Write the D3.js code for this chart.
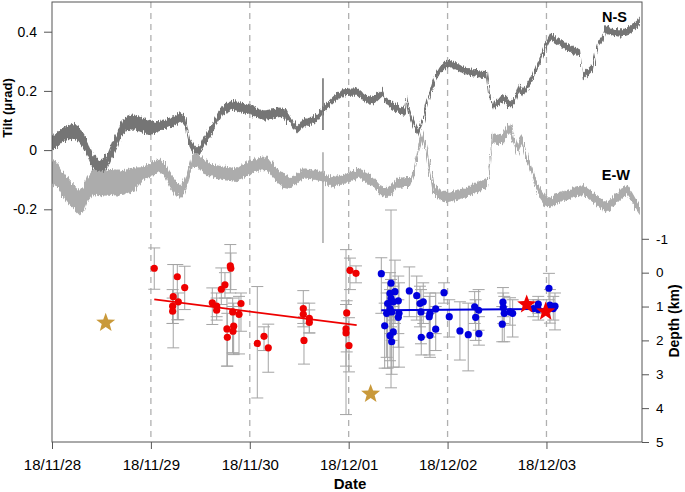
<!DOCTYPE html>
<html><head><meta charset="utf-8">
<script src="https://cdn.jsdelivr.net/npm/d3@7"></script>
<style>
body{margin:0;background:#fff}
svg{display:block}
text{font-family:"Liberation Sans",Arial,Helvetica,sans-serif;fill:#000}
</style>
</head><body>
<svg id="chart" width="685" height="492"></svg>
<script>
// ---------- DATA (time in days since 2018-11-28 00:00 UTC) ----------
const dayLabels = ["18/11/28","18/11/29","18/11/30","18/12/01","18/12/02","18/12/03"];
const tiltTicks = [-0.2, 0, 0.2, 0.4];
const depthTicks = [-1, 0, 1, 2, 3, 4, 5];

// N-S tilt (µrad), [day, value]
const nsTilt = [[0,0.024],[0.051,0.034],[0.101,0.051],[0.152,0.057],[0.212,0.064],[0.263,0.054],[0.313,0.034],[0.364,0],[0.415,-0.041],[0.485,-0.061],[0.526,-0.051],[0.566,-0.034],[0.607,0],[0.657,0.034],[0.708,0.078],[0.758,0.088],[0.819,0.095],[0.885,0.088],[0.991,0.074],[1.072,0.078],[1.163,0.091],[1.244,0.101],[1.294,0.112],[1.345,0.101],[1.395,0.024],[1.426,0.007],[1.466,-0.007],[1.496,0],[1.527,0.024],[1.577,0.051],[1.628,0.078],[1.678,0.108],[1.729,0.135],[1.780,0.145],[1.830,0.152],[1.901,0.145],[2.002,0.135],[2.133,0.118],[2.224,0.122],[2.305,0.128],[2.336,0.125],[2.376,0.115],[2.406,0.101],[2.447,0.081],[2.477,0.068],[2.508,0.078],[2.538,0.091],[2.609,0.098],[2.680,0.108],[2.710,0.122],[2.740,0.135],[2.781,0.149],[2.841,0.169],[2.892,0.183],[2.942,0.193],[3.013,0.196],[3.084,0.196],[3.145,0.179],[3.215,0.169],[3.286,0.176],[3.347,0.196],[3.367,0.169],[3.418,0.156],[3.519,0.135],[3.569,0.128],[3.590,0.172],[3.620,0.122],[3.650,0.095],[3.701,0.057],[3.751,0.101],[3.802,0.169],[3.842,0.213],[3.883,0.247],[3.923,0.270],[3.974,0.287],[4.024,0.294],[4.085,0.284],[4.156,0.270],[4.226,0.264],[4.327,0.257],[4.398,0.254],[4.429,0.179],[4.459,0.145],[4.510,0.159],[4.560,0.179],[4.601,0.166],[4.631,0.152],[4.682,0.169],[4.712,0.196],[4.732,0.213],[4.762,0.193],[4.813,0.220],[4.863,0.247],[4.914,0.287],[4.965,0.328],[5.005,0.362],[5.035,0.382],[5.086,0.375],[5.137,0.362],[5.207,0.348],[5.268,0.338],[5.319,0.331],[5.339,0.328],[5.369,0.247],[5.420,0.264],[5.470,0.281],[5.501,0.331],[5.531,0.362],[5.571,0.382],[5.592,0.406],[5.642,0.402],[5.713,0.396],[5.774,0.396],[5.824,0.402],[5.874,0.413],[5.915,0.426],[5.945,0.440]];
// E-W tilt (µrad), [day, value]
const ewTilt = [[0,-0.074],[0.051,-0.085],[0.101,-0.112],[0.152,-0.135],[0.202,-0.152],[0.253,-0.169],[0.283,-0.179],[0.324,-0.162],[0.354,-0.135],[0.415,-0.108],[0.485,-0.115],[0.566,-0.108],[0.657,-0.112],[0.738,-0.108],[0.819,-0.101],[0.910,-0.081],[0.991,-0.068],[1.041,-0.057],[1.092,-0.051],[1.143,-0.068],[1.193,-0.101],[1.244,-0.125],[1.294,-0.142],[1.335,-0.128],[1.365,-0.101],[1.395,-0.068],[1.426,-0.034],[1.466,-0.034],[1.496,-0.044],[1.547,-0.057],[1.598,-0.068],[1.668,-0.074],[1.729,-0.078],[1.800,-0.081],[1.871,-0.085],[1.931,-0.071],[2.002,-0.057],[2.083,-0.047],[2.174,-0.044],[2.235,-0.068],[2.285,-0.088],[2.336,-0.101],[2.406,-0.112],[2.477,-0.095],[2.538,-0.078],[2.609,-0.081],[2.680,-0.085],[2.730,-0.088],[2.781,-0.101],[2.841,-0.108],[2.912,-0.101],[3.013,-0.091],[3.114,-0.078],[3.185,-0.095],[3.246,-0.108],[3.316,-0.135],[3.387,-0.145],[3.448,-0.128],[3.488,-0.112],[3.569,-0.108],[3.620,-0.108],[3.660,-0.074],[3.691,-0.024],[3.721,0.024],[3.741,0.044],[3.771,0.017],[3.792,-0.010],[3.822,-0.068],[3.852,-0.125],[3.923,-0.152],[3.994,-0.159],[4.095,-0.152],[4.196,-0.142],[4.297,-0.125],[4.398,-0.112],[4.429,-0.034],[4.449,0.044],[4.499,0.034],[4.560,0.041],[4.611,0.068],[4.631,0.074],[4.671,0.034],[4.702,0],[4.732,0.024],[4.752,0.034],[4.793,-0.017],[4.833,-0.057],[4.884,-0.108],[4.934,-0.145],[4.985,-0.169],[5.035,-0.179],[5.116,-0.162],[5.207,-0.152],[5.288,-0.142],[5.369,-0.135],[5.440,-0.152],[5.541,-0.179],[5.612,-0.193],[5.693,-0.169],[5.764,-0.145],[5.814,-0.135],[5.865,-0.159],[5.905,-0.183],[5.945,-0.203]];
// noise half-width of each trace, [from day, µrad]
const nsNoise = [[0,0.025],[1.0,0.016],[2.4,0.012]];
const ewNoise = [[0,0.042],[0.9,0.023],[2.4,0.017]];
// spikes [day, low, high]
const nsSpikes = [[2.740,0.068,0.243]];
const ewSpikes = [[2.740,-0.314,-0.007]];

// Hypocentre depths (km): day, depth, error low, error high
const redT  = [1.034,1.267,1.342,1.226,1.277,1.220,1.220,1.621,1.665,1.665,1.712,1.749,1.803,1.808,1.911,1.827,1.891,1.769,1.837,1.830,1.773,2.076,2.144,2.187,2.541,2.541,2.602,2.602,2.548,2.980,2.973,2.973,3.003,3.013,3.074];
const redD  = [-0.13,0.12,0.44,0.71,0.86,0.99,1.14,0.89,0.99,1.11,0.49,0.36,-0.20,-0.13,0.91,1.16,1.23,1.66,1.58,1.73,1.91,2.09,1.88,2.22,1.06,1.23,1.35,1.47,2.00,1.19,1.66,1.78,2.15,-0.07,0.02];
const redLo = [-0.73,-0.24,-0.19,-0.24,0.60,0.50,0.75,0.45,0.60,0.75,-0.14,0.00,-0.83,-0.58,0.60,0.75,0.70,0.75,0.90,1.00,1.20,0.41,1.60,1.52,0.53,0.90,0.90,1.10,1.30,0.83,0.94,-0.68,1.33,-0.43,-0.20];
const redHi = [0.49,1.39,1.09,2.22,1.39,1.50,1.50,1.53,1.30,1.40,0.94,0.75,0.60,0.50,1.73,2.37,2.40,2.76,2.42,2.37,2.76,3.70,2.30,2.94,1.60,1.50,1.78,1.78,2.70,2.34,2.76,4.19,2.93,0.50,0.30];

const blueT  = [3.330,3.428,3.468,3.418,3.428,3.394,3.502,3.451,3.418,3.384,3.435,3.509,3.502,3.364,3.451,3.418,3.435,3.613,3.688,3.754,3.721,3.731,3.822,3.815,3.880,3.734,3.822,3.880,3.964,4.017,4.125,4.209,4.274,4.314,4.284,4.317,4.560,4.563,4.573,4.553,4.631,4.658,4.867,4.917,4.917,5.025,5.035,5.086,5.069];
const blueD  = [0.03,0.31,0.56,0.61,0.76,0.91,0.83,0.86,1.06,1.20,1.16,1.20,1.32,1.57,1.75,1.86,2.04,0.54,0.68,0.86,0.91,1.16,1.20,1.30,1.07,1.91,1.85,1.67,0.59,1.30,1.72,1.83,1.01,1.11,1.32,1.80,0.87,1.03,1.20,1.52,1.16,1.20,1.06,0.93,1.09,0.46,0.96,0.99,1.06];
const blueLo = [-0.44,-1.85,-0.37,0.00,0.20,0.30,0.10,0.40,0.50,0.60,0.60,0.30,0.80,0.90,1.00,1.20,1.30,-0.17,0.10,0.30,0.40,0.50,0.60,0.70,0.60,1.30,1.20,1.00,0.30,0.80,0.86,0.90,0.56,0.50,0.80,1.30,0.44,0.60,0.70,1.00,0.74,0.80,0.80,0.70,0.80,0.02,0.50,0.60,0.70];
const blueHi = [1.20,3.40,1.50,1.30,1.60,2.82,1.80,1.40,1.80,2.50,2.00,2.79,2.20,2.82,2.79,2.60,3.00,1.30,1.40,1.50,1.60,2.10,1.90,2.43,1.80,2.43,2.50,2.30,0.90,1.90,2.58,2.90,1.50,1.70,2.00,2.14,1.30,1.50,2.04,2.04,1.55,1.90,1.30,1.20,1.40,0.80,1.49,1.69,1.40];

const redFit  = [[1.034,0.79],[3.081,1.55]];
const blueFit = [[3.330,1.11],[5.086,1.07]];
const goldStars = [[0.543,1.48],[3.222,3.58]];
const redStars  = [[4.800,0.94],[4.992,1.15]];

// ---------- CHART ----------
const svg = d3.select("#chart");
const base = Date.UTC(2018,10,28);
const toDate = t => new Date(base + t*864e5);
const L = 52, R = 642, T = 2, B = 442;

const x = d3.scaleUtc().domain([toDate(0), toDate(5.966)]).range([L, R]);
const yT = d3.scaleLinear().domain([-0.2, 0.4]).range([209.3, 31.7]);
const yD = d3.scaleLinear().domain([-1, 5]).range([238.8, B]);
const dayDates = dayLabels.map((s,i) => toDate(i));

// texture filter giving the recorded traces their ragged, noisy edge (rendering only)
const defs = svg.append("defs");
const f = defs.append("filter").attr("id", "rough")
  .attr("x", "-5%").attr("y", "-20%").attr("width", "110%").attr("height", "140%");
f.append("feTurbulence").attr("type", "fractalNoise").attr("baseFrequency", "0.9 0.06")
  .attr("numOctaves", 2).attr("seed", 4).attr("result", "t");
f.append("feDisplacementMap").attr("in", "SourceGraphic").attr("in2", "t")
  .attr("scale", 7).attr("xChannelSelector", "R").attr("yChannelSelector", "G");

// dashed day lines
svg.append("g").selectAll("line").data(dayDates.slice(1)).join("line")
  .attr("x1", d => x(d)).attr("x2", d => x(d)).attr("y1", T).attr("y2", B)
  .attr("stroke", "#b0b0b0").attr("stroke-width", 1.3).attr("stroke-dasharray", "6,5");

// tilt traces
function noiseAt(tbl, t){ let s = tbl[0][1]; for (const [t0,v] of tbl) if (t >= t0) s = v; return s; }
function drawTrace(data, noise, spikes, color){
  const g = svg.append("g");
  const area = d3.area().x(d => x(toDate(d[0])))
    .y0(d => yT(d[1] - noiseAt(noise, d[0]))).y1(d => yT(d[1] + noiseAt(noise, d[0])));
  g.append("path").attr("d", area(data)).attr("fill", color).attr("filter", "url(#rough)");
  g.selectAll("line").data(spikes).join("line")
    .attr("x1", d => x(toDate(d[0]))).attr("x2", d => x(toDate(d[0])))
    .attr("y1", d => yT(d[1])).attr("y2", d => yT(d[2]))
    .attr("stroke", color).attr("stroke-width", 1.6);
}
drawTrace(nsTilt, nsNoise, nsSpikes, "#747474");
drawTrace(ewTilt, ewNoise, ewSpikes, "#acacac");

// error bars
function errBars(T_, D_, Lo, Hi){
  const g = svg.append("g").attr("stroke", "#a4a4a4").attr("stroke-width", 1).attr("fill", "none");
  T_.forEach((t,i) => {
    const cx = x(toDate(t));
    g.append("line").attr("x1", cx).attr("x2", cx).attr("y1", yD(Lo[i])).attr("y2", yD(Hi[i]));
    g.append("line").attr("x1", cx-6).attr("x2", cx+6).attr("y1", yD(Lo[i])).attr("y2", yD(Lo[i]));
    g.append("line").attr("x1", cx-6).attr("x2", cx+6).attr("y1", yD(Hi[i])).attr("y2", yD(Hi[i]));
  });
}
errBars(redT, redD, redLo, redHi);
errBars(blueT, blueD, blueLo, blueHi);

function dots(T_, D_, color){
  svg.append("g").selectAll("circle").data(T_).join("circle")
    .attr("cx", t => x(toDate(t))).attr("cy", (t,i) => yD(D_[i])).attr("r", 3.6).attr("fill", color);
}
dots(redT, redD, "#ee0000");
dots(blueT, blueD, "#0000dd");

const fitLine = d3.line().x(d => x(toDate(d[0]))).y(d => yD(d[1]));
svg.append("path").attr("d", fitLine(redFit)).attr("stroke", "#ee0000").attr("stroke-width", 1.8).attr("fill", "none");
svg.append("path").attr("d", fitLine(blueFit)).attr("stroke", "#0000dd").attr("stroke-width", 1.8).attr("fill", "none");

function starPath(R0){
  const r0 = R0 * 0.42, pts = [];
  for (let k = 0; k < 10; k++){
    const a = -Math.PI/2 + k*Math.PI/5, rr = k%2 ? r0 : R0;
    pts.push([rr*Math.cos(a), rr*Math.sin(a)]);
  }
  return "M" + pts.map(p => p[0].toFixed(2)+","+p[1].toFixed(2)).join("L") + "Z";
}
svg.append("g").selectAll("path").data(goldStars).join("path")
  .attr("d", starPath(10)).attr("fill", "#c9993a")
  .attr("transform", d => `translate(${x(toDate(d[0]))},${yD(d[1])})`);
svg.append("g").selectAll("path").data(redStars).join("path")
  .attr("d", starPath(10)).attr("fill", "#f00000")
  .attr("transform", d => `translate(${x(toDate(d[0]))},${yD(d[1])})`);

// frame
svg.append("rect").attr("x", L).attr("y", T).attr("width", R-L).attr("height", B-T)
  .attr("fill", "none").attr("stroke", "#555").attr("stroke-width", 1);

// axes
const axL = svg.append("g").attr("transform", `translate(${L},0)`)
  .call(d3.axisLeft(yT).tickValues(tiltTicks).tickSize(8).tickPadding(7)
    .tickFormat(d => d === 0 ? "0" : d.toFixed(1)));
const axR = svg.append("g").attr("transform", `translate(${R},0)`)
  .call(d3.axisRight(yD).tickValues(depthTicks).tickSize(7).tickPadding(7)
    .tickFormat(d => String(d)));
const axB = svg.append("g").attr("transform", `translate(0,${B})`)
  .call(d3.axisBottom(x).tickValues(dayDates).tickSize(7).tickPadding(10)
    .tickFormat((d,i) => dayLabels[i]));
[axL, axR, axB].forEach(a => {
  a.select(".domain").remove();
  a.selectAll(".tick line").attr("stroke", "#555");
  a.selectAll("text").attr("font-family", null).attr("fill", "#000");
});
axL.selectAll("text").attr("font-size", 14);
axR.selectAll("text").attr("font-size", 13.5);
axB.selectAll("text").attr("font-size", 15);

// labels
svg.append("text").attr("x", 350).attr("y", 489).attr("text-anchor", "middle")
  .attr("font-size", 15).attr("font-weight", "bold").text("Date");
svg.append("text").attr("transform", "translate(679,321) rotate(-90)").attr("text-anchor", "middle")
  .attr("font-size", 14).attr("font-weight", "bold").text("Depth (km)");
svg.append("text").attr("transform", "translate(12,108) rotate(-90)").attr("text-anchor", "middle")
  .attr("font-size", 13).attr("font-weight", "bold").text("Tilt (μrad)");
svg.append("text").attr("x", 627).attr("y", 22).attr("text-anchor", "end")
  .attr("font-size", 14.5).attr("font-weight", "bold").text("N-S");
svg.append("text").attr("x", 630).attr("y", 180).attr("text-anchor", "end")
  .attr("font-size", 14.5).attr("font-weight", "bold").text("E-W");
</script>
</body></html>
